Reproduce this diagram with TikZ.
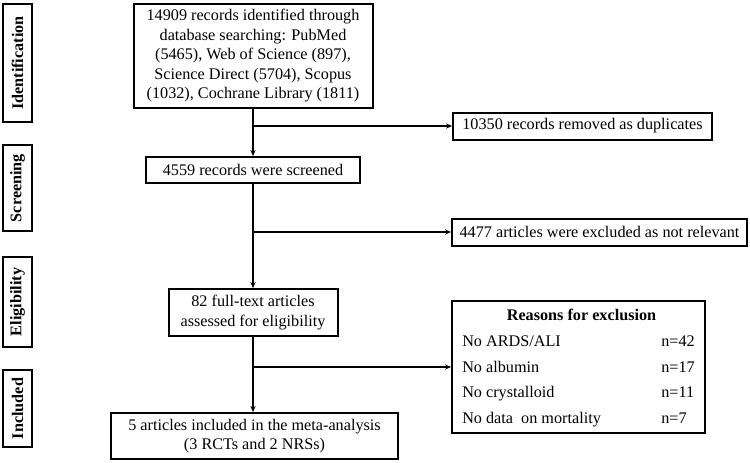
\documentclass[tikz,border=0pt]{standalone}
\usepackage{fontspec}
\setmainfont{Liberation Serif}
\usetikzlibrary{arrows.meta, positioning}

\begin{document}
\begin{tikzpicture}[
    x=0.5pt, y=-0.5pt,
    font=\fontsize{8.1}{9.75}\selectfont,
    box/.style={
        rectangle,
        draw=black,
        line width=1pt,
        align=center,
        inner sep=1pt
    },
    stage/.style={
        box,
        rotate=90,
        font=\fontsize{8.1}{9.75}\selectfont\bfseries,
        minimum height=14.5pt
    },
    flow/.style={-{Stealth[length=3pt,width=2.6pt]}, line width=0.9pt}
]
\useasboundingbox (0,0) rectangle (750,462);

% Stages on the left
\node[stage, minimum width=59pt] (sident) at (17.5,63) {Identification};
\node[stage, minimum width=43pt] (sscreen) at (17.5,188) {Screening};
\node[stage, minimum width=45pt] (selig) at (17.5,302) {Eligibility};
\node[stage, minimum width=38.5pt] (sincl) at (17.5,408.5) {Included};

% Main flow
\node[box, minimum width=119.5pt, minimum height=52pt] (ident) at (253,56)
    {14909 records identified through\\database searching: PubMed\\(5465), Web of Science (897),\\Science Direct (5704), Scopus\\(1032), Cochrane Library (1811)};
\node[box, minimum width=107pt, minimum height=13pt] (screen) at (253,170) {4559 records were screened};
\node[box, minimum width=84.5pt, minimum height=23.5pt] (elig) at (253,312.5)
    {82 full-text articles\\assessed for eligibility};
\node[box, minimum width=143.5pt, minimum height=23pt] (incl) at (254.5,436)
    {5 articles included in the meta-analysis\\(3 RCTs and 2 NRSs)};

% Exclusions
\node[box, minimum width=129.5pt, minimum height=13.5pt] (dup) at (582.5,126) {10350 records removed as duplicates};
\node[box, minimum width=147.5pt, minimum height=13.5pt] (notrel) at (599.5,232) {4477 articles were excluded as not relevant};
\node[box, minimum width=126.5pt, minimum height=66pt, inner xsep=3.5pt, align=left,
      font=\fontsize{8.1}{12.85}\selectfont] (reasons) at (578.5,367)
    {\begin{tabular}{@{}p{99.5pt}@{}l@{}}
     \multicolumn{2}{@{}c@{}}{\hspace{3pt}\bfseries Reasons for exclusion}\\
     No ARDS/ALI & n=42\\
     No albumin & n=17\\
     No crystalloid & n=11\\
     No data\ \ on mortality & n=7
     \end{tabular}};

\draw[flow] (ident.south) -- (ident.south |- screen.north);
\draw[flow] (screen.south) -- (screen.south |- elig.north);
\draw[flow] (elig.south) -- (elig.south |- incl.north);
\draw[flow] (ident.south |- dup.west) -- (dup.west);
\draw[flow] (screen.south |- notrel.west) -- (notrel.west);
\draw[flow] (elig.south |- reasons.west) -- (reasons.west);

\end{tikzpicture}
\end{document}
